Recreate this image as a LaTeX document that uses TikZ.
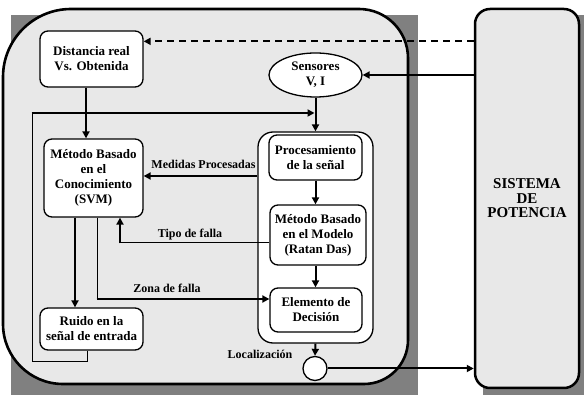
\documentclass[tikz,border=0pt]{standalone}
\usepackage{fontspec}
\setmainfont{Liberation Serif}
\usetikzlibrary{arrows.meta,shapes.geometric}
\definecolor{panelgray}{HTML}{E8E8E8}
\definecolor{shadowgray}{HTML}{808080}
\begin{document}
\begin{tikzpicture}[x=1pt,y=-1pt,
  box/.style={draw,line width=1.3pt,rounded corners=8pt,fill=white,align=center,inner sep=0pt,
    font=\bfseries\fontsize{13}{15}\selectfont},
  lbl/.style={inner sep=0pt,font=\bfseries\fontsize{12}{14}\selectfont},
  arr/.style={line width=2pt,-{Triangle[length=7pt,width=7pt]}},
  thinln/.style={line width=1pt}]
\useasboundingbox (0,0) rectangle (584,395);
% shadows
\fill[shadowgray] (11,15) rectangle (418,395);
\fill[shadowgray] (483,15) rectangle (590,395);
% main container
\draw[line width=2.6pt,fill=panelgray,line join=round]
  (3,77) arc[start angle=180,end angle=90,radius=68pt]
  -- (359,9) arc[start angle=90,end angle=0,radius=49pt]
  -- (408,340) arc[start angle=0,end angle=-90,radius=44pt]
  -- (63,384) arc[start angle=270,end angle=180,radius=60pt]
  -- cycle;
% sistema
\node[draw,line width=2.5pt,fill=panelgray,rounded corners=15pt,minimum width=104pt,minimum height=379pt,
  align=center,inner sep=0pt,font=\bfseries\fontsize{15}{14.5}\selectfont] (sist) at (527,198.5) {SISTEMA\\DE\\POTENCIA};
% nodes
\node[box,minimum width=103pt,minimum height=56pt] (dist) at (91.5,59) {Distancia real\\Vs. Obtenida};
\node[box,minimum width=99pt,minimum height=78pt] (con) at (93.5,178) {Método Basado\\en el\\Conocimiento\\(SVM)};
\node[box,minimum width=103pt,minimum height=42pt] (ruido) at (91.5,329) {Ruido en la\\señal de entrada};
\node[draw,ellipse,line width=1.3pt,fill=white,minimum width=93pt,minimum height=44pt,inner sep=0pt,align=center,
  font=\bfseries\fontsize{13}{15}\selectfont] (sens) at (315.5,75) {Sensores\\V, I};
\node[draw,line width=1.3pt,fill=white,rounded corners=15pt,minimum width=115pt,minimum height=211pt] (outer) at (315.5,237.5) {};
\node[box,minimum width=93pt,minimum height=45pt] (proc) at (315.5,157.5) {Procesamiento\\de la señal};
\node[box,minimum width=96pt,minimum height=60pt] (model) at (318,235) {Método Basado\\en el Modelo\\(Ratan Das)};
\node[box,minimum width=92pt,minimum height=44pt] (elem) at (316,310) {Elemento de\\Decisión};
\node[draw,circle,line width=1.3pt,fill=white,minimum size=24pt,inner sep=0pt] (circ) at (315,368.5) {};
% labels
\node[lbl] (lmed) at (203.5,164) {Medidas Procesadas};
\node[lbl] (ltipo) at (190,235) {Tipo de falla};
\node[lbl] (lzona) at (167,288) {Zona de falla};
\node[lbl] (lloc) at (260,354) {Localización};
% connectors
\coordinate (dA) at ([yshift=-11pt]dist.north east);
\draw[arr,dashed,dash pattern=on 7pt off 5pt] (sist.west |- dA) -- (dA);
\draw[arr] (sist.west |- sens.east) -- (sens.east);
\draw[arr] (dist.south -| 86,0) -- (con.north -| 86,0);
\draw[arr] (sens.south) -- (outer.north);
\draw[arr] (proc.south) -- (proc.south |- model.north);
\draw[arr] (proc.south |- model.south) -- (proc.south |- elem.north);
\draw[arr] (outer.south) -- (circ.north);
\draw[arr] (circ.east) -- (sist.west |- circ.east);
\coordinate (mA) at ([yshift=2pt]outer.west |- con.east);
\draw[arr] (mA) -- (con.east |- mA);
% tipo de falla
\coordinate (tA) at ([yshift=-8pt]model.west);
\coordinate (t1) at ([xshift=26.5pt]con.south);
\draw[thinln] (tA) -- (t1 |- tA);
\draw[arr] ([yshift=-0.5pt]t1 |- tA) -- (t1);
% zona de falla
\coordinate (zA) at ([yshift=11pt]elem.west);
\coordinate (z1) at ([xshift=3.5pt]con.south);
\draw[thinln] (z1) -- (z1 |- zA);
\draw[arr] ([xshift=-0.5pt]z1 |- zA) -- (zA);
% con -> ruido
\coordinate (r1) at ([xshift=-18.5pt]con.south);
\draw[arr] (r1) -- (r1 |- ruido.north);
% feedback
\coordinate (rb) at ([xshift=-4.5pt]ruido.south);
\coordinate (fbB) at (32,362);
\coordinate (fbL) at (32,113);
\draw[thinln] (rb) |- (fbB) -- (fbL);
\draw[arr,shorten >=1pt] ([xshift=-0.5pt]fbL) -- (fbL -| sens.south);
\end{tikzpicture}
\end{document}
